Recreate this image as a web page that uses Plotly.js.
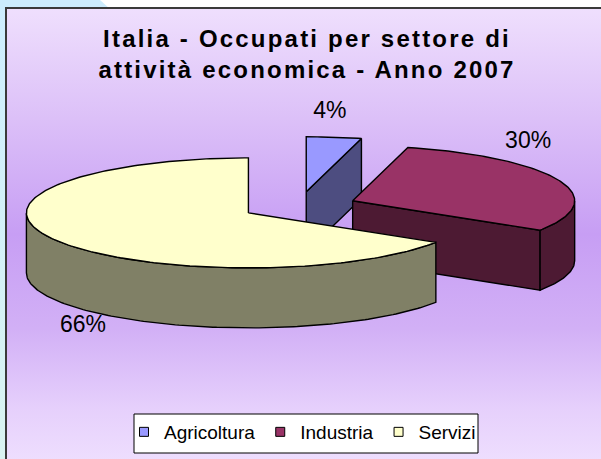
<!DOCTYPE html>
<html>
<head>
<meta charset="utf-8">
<script src="https://cdn.plot.ly/plotly-3.0.1.min.js"></script>
<style>
html,body{margin:0;padding:0;background:#ffffff;}
#wrap{position:relative;width:601px;height:459px;overflow:hidden;}
#strip{position:absolute;left:0;top:0;width:7px;height:459px;background:linear-gradient(#cdeefe,#d9f3f1);}
#corner{position:absolute;left:0;top:0;width:112px;height:9px;background:#ccecfd;clip-path:polygon(0 0,100px 0,110px 9px,0 9px);}
#frame{position:absolute;left:5px;top:7px;width:700px;height:600px;border-left:2px solid #3a3a3a;border-top:2px solid #3a3a3a;
background:linear-gradient(to bottom,#efdffd 0px,#dcc0f8 110px,#c79ef4 225px,#d2b0f6 320px,#e6d0fc 400px,#eedefe 452px);}
#plot{position:absolute;left:0;top:0;width:601px;height:459px;}
#plot .gtitle{letter-spacing:2.2px;}
</style>
</head>
<body>
<div id="wrap">
  <div id="strip"></div>
  <div id="corner"></div>
  <div id="frame"></div>
  <div id="plot"></div>
</div>
<script>
// ---- data ----
const labels = ['Agricoltura', 'Industria', 'Servizi'];
const values = [4, 30, 66];

// ---- styles ----
const topColors  = ['#9999FF', '#993366', '#FFFFCC'];
const sideColors = ['#4D4D80', '#4D1A33', '#808066'];
const FONT = 'Liberation Sans, Arial, sans-serif';
// pie geometry (pixel units on hidden axes)
const G = {cx: 299, cy: 206, rx: 222, ry: 55, depth: 60, explode: 0.26, start: 90,
           labelR: 0.85, labelAbove: 25, labelBelow: 17};

const rad = d => d * Math.PI / 180;
const total = values.reduce((a, b) => a + b, 0);

// slices laid out clockwise from 12 o'clock
let cur = G.start;
const slices = values.map((v, i) => {
  const sweep = v / total * 360;
  const a1 = cur, a0 = cur - sweep;
  cur = a0;
  const mid = (a0 + a1) / 2;
  const ox = G.cx + G.explode * G.rx * Math.cos(rad(mid));
  const oy = G.cy - G.explode * G.ry * Math.sin(rad(mid));
  return {i, a0, a1, mid, ox, oy};
});

function pt(s, deg, down) {
  return [s.ox + G.rx * Math.cos(rad(deg)), s.oy - G.ry * Math.sin(rad(deg)) + (down ? G.depth : 0)];
}
function arc(s, from, to, down) {
  const n = Math.max(2, Math.ceil(Math.abs(to - from)));
  const out = [];
  for (let k = 0; k <= n; k++) out.push(pt(s, from + (to - from) * k / n, down));
  return out;
}
function poly(points, fill) {
  return {type: 'scatter', mode: 'lines', x: points.map(p => p[0]), y: points.map(p => p[1]),
    fill: 'toself', fillcolor: fill, line: {color: '#000', width: 1.4}, hoverinfo: 'skip', showlegend: false};
}

const traces = [];
// painter's order: back (upper) slices first
const order = slices.slice().sort((a, b) => Math.sin(rad(b.mid)) - Math.sin(rad(a.mid)));
order.forEach(s => {
  const dark = sideColors[s.i];
  // radial cut faces
  const c0 = [s.ox, s.oy], c1 = [s.ox, s.oy + G.depth];
  if (Math.cos(rad(s.a0)) > 1e-6) traces.push(poly([c0, pt(s, s.a0, false), pt(s, s.a0, true), c1, c0], dark));
  if (Math.cos(rad(s.a1)) < -1e-6) traces.push(poly([c0, pt(s, s.a1, false), pt(s, s.a1, true), c1, c0], dark));
  // curved outer side (front half only)
  for (let k = -2; k <= 1; k++) {
    const lo = Math.max(s.a0, k * 360 - 180), hi = Math.min(s.a1, k * 360);
    if (hi - lo > 0.01) {
      const topArc = arc(s, lo, hi, false);
      const botArc = arc(s, hi, lo, true);
      const p = topArc.concat(botArc); p.push(topArc[0]);
      traces.push(poly(p, dark));
    }
  }
  // top face
  const tp = [[s.ox, s.oy]].concat(arc(s, s.a0, s.a1, false)); tp.push([s.ox, s.oy]);
  traces.push(poly(tp, topColors[s.i]));
});

// percentage labels
const lx = [], ly = [], lt = [];
slices.forEach(s => {
  const c = G.labelR * Math.cos(rad(s.mid));
  const h = Math.sqrt(Math.max(0, 1 - c * c));
  const up = Math.sin(rad(s.mid)) >= 0;
  lx.push(s.ox + G.rx * c);
  ly.push(up ? s.oy - G.ry * h - G.labelAbove : s.oy + G.ry * h + G.depth + G.labelBelow);
  lt.push(Math.round(values[s.i] / total * 100) + '%');
});
traces.push({type: 'scatter', mode: 'text', x: lx, y: ly, text: lt, textposition: 'middle center',
  textfont: {family: FONT, size: 23, color: '#000'}, hoverinfo: 'skip', showlegend: false});

// legend entries
labels.forEach((name, i) => {
  traces.push({type: 'scatter', mode: 'markers', x: [null], y: [null], name: name,
    marker: {symbol: 'square', size: 9, color: topColors[i], line: {color: '#000', width: 1}}, showlegend: true});
});

const layout = {
  width: 601, height: 459,
  margin: {l: 0, r: 0, t: 0, b: 0, pad: 0},
  paper_bgcolor: 'rgba(0,0,0,0)', plot_bgcolor: 'rgba(0,0,0,0)',
  hovermode: false,
  xaxis: {range: [0, 601], visible: false, fixedrange: true},
  yaxis: {range: [459, 0], visible: false, fixedrange: true},
  title: {text: 'Italia - Occupati per settore di<br>attività economica - Anno 2007',
    font: {family: FONT, size: 24, color: '#000', weight: 'bold'},
    x: 307 / 601, xanchor: 'center', y: 1 - 47 / 459, yanchor: 'top'},
  showlegend: true,
  legend: {orientation: 'h', x: 124 / 601, xanchor: 'left', y: 1 - 432 / 459, yanchor: 'middle',
    bgcolor: 'rgba(0,0,0,0)', borderwidth: 0, font: {family: FONT, size: 19, color: '#000'}},
  shapes: [{type: 'rect', xref: 'x', yref: 'y', x0: 134, x1: 478, y0: 414, y1: 453,
    fillcolor: '#ffffff', line: {color: '#000', width: 1}, layer: 'below'}]
};

Plotly.newPlot('plot', traces, layout, {displayModeBar: false, staticPlot: true});
</script>
</body>
</html>
